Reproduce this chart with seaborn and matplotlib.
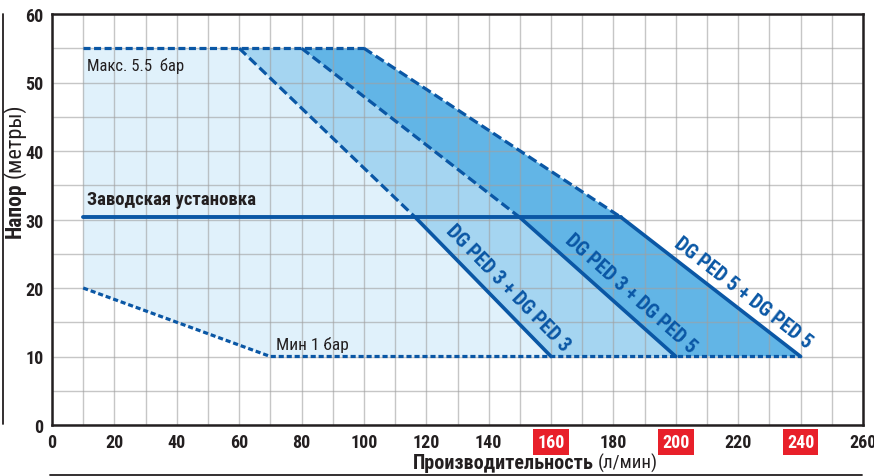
import numpy as np
import pandas as pd
import matplotlib
matplotlib.use("Agg")
import matplotlib.pyplot as plt
from matplotlib import font_manager
from matplotlib.lines import Line2D
import seaborn as sns

# ---------------- data ----------------
x_ticks = [0, 20, 40, 60, 80, 100, 120, 140, 160, 180, 200, 220, 240, 260]
y_ticks = [0, 10, 20, 30, 40, 50, 60]
highlight_ticks = [160, 200, 240]

max_head = 55.0        # Макс. 5.5 бар
factory_head = 30.3    # Заводская установка
min_head = 10.0        # Мин 1 бар
start_flow = 10.0
start_min_head = 20.0

curve_heads = [55.0, 30.3, 10.0]
curve1_flow = [60.0, 116.5, 160.0]   # DG PED 3 + DG PED 3
curve2_flow = [80.0, 150.0, 200.0]   # DG PED 3 + DG PED 5
curve3_flow = [100.0, 182.5, 240.0]  # DG PED 5 + DG PED 5
min_curve_flow = [10.0, 70.0, 240.0]
min_curve_head = [20.0, 10.0, 10.0]

curve_labels = ["DG PED 3 + DG PED 3", "DG PED 3 + DG PED 5", "DG PED 5 + DG PED 5"]

# ---------------- style ----------------
sns.set_theme(style="white")
names = {f.name for f in font_manager.fontManager.ttflist}
main_font = "DejaVu Sans"
for cand in ["Liberation Sans Narrow", "Roboto Condensed", "Open Sans Condensed", "Roboto"]:
    if cand in names:
        main_font = cand
        break
plt.rcParams["font.family"] = [main_font, "DejaVu Sans"]

LINE = "#0a57a5"
LIGHT = "#e0f1fb"
MED = "#a5d5f1"
DARK = "#62b5e6"
TXT = "#231f20"
RED = "#e8202a"

fig = plt.figure(figsize=(8.74, 4.77), dpi=100)
ax = fig.add_axes([52 / 874, 51 / 477, 811 / 874, 411 / 477])

# ---------------- fills ----------------
light_x = [start_flow, curve1_flow[0], curve1_flow[1], curve1_flow[2], min_curve_flow[1], start_flow]
light_y = [max_head, curve_heads[0], curve_heads[1], curve_heads[2], min_head, start_min_head]
med_x = [curve1_flow[0], curve2_flow[0], curve2_flow[1], curve2_flow[2], curve1_flow[2], curve1_flow[1]]
med_y = [curve_heads[0], curve_heads[0], curve_heads[1], curve_heads[2], curve_heads[2], curve_heads[1]]
dark_x = [curve2_flow[0], curve3_flow[0], curve3_flow[1], curve3_flow[2], curve2_flow[2], curve2_flow[1]]
dark_y = med_y
ax.fill(light_x, light_y, color=LIGHT, lw=0, zorder=1)
ax.fill(med_x, med_y, color=MED, lw=0, zorder=1)
ax.fill(dark_x, dark_y, color=DARK, lw=0, zorder=1)

# ---------------- lines ----------------
def seg(xs, ys, **kw):
    df = pd.DataFrame({"x": xs, "y": ys})
    sns.lineplot(data=df, x="x", y="y", sort=False, estimator=None, ax=ax,
                 color=LINE, zorder=4, legend=False, **kw)

seg([start_flow, curve3_flow[0]], [max_head, max_head], lw=2.3, dashes=(2.2, 1.1))
for cf in (curve1_flow, curve2_flow, curve3_flow):
    seg(cf[:2], curve_heads[:2], lw=2.3, dashes=(3.0, 1.4))
    seg(cf[1:], curve_heads[1:], lw=2.6)
seg([start_flow, curve3_flow[1]], [factory_head, factory_head], lw=2.8)
seg(min_curve_flow, min_curve_head, lw=2.3, dashes=(1.6, 0.9))
ax.set_xlabel("")
ax.set_ylabel("")
ax.set_xlim(0, 260)
ax.set_ylim(0, 60)

# ---------------- grid ----------------
ax.set_xticks(np.arange(0, 261, 10), minor=True)
ax.set_yticks(np.arange(0, 61, 5), minor=True)
ax.set_xticks(x_ticks)
ax.set_yticks(y_ticks)
ax.grid(True, which="both", color="#a0a0a0", alpha=0.6, lw=1.0)
ax.set_axisbelow(False)

# ---------------- texts ----------------
ax.text(11.2, 52.6, "Макс. 5.5  бар", fontsize=12, color=TXT, va="center", ha="left", zorder=5)
ax.text(11.2, 33.0, "Заводская установка", fontsize=13.5, fontweight="bold", color=TXT,
        va="center", ha="left", zorder=5)
ax.text(71.8, 11.8, "Мин 1 бар", fontsize=12.5, color=TXT, va="center", ha="left", zorder=5)

label_pos = [(146.0, 20.0), (185.5, 19.2), (221.5, 19.3)]
for lab, cf, (lx, ly) in zip(curve_labels, (curve1_flow, curve2_flow, curve3_flow), label_pos):
    ang = np.degrees(np.arctan2(curve_heads[2] - curve_heads[1], cf[2] - cf[1]))
    ax.text(lx, ly, lab, rotation=ang, transform_rotates_text=True, rotation_mode="anchor",
            ha="center", va="center", fontsize=14.5, fontweight="bold", color=LINE, zorder=5)

# ---------------- axes styling ----------------
ax.tick_params(axis="both", which="both", length=0)
ax.tick_params(axis="x", pad=6)
ax.tick_params(axis="y", pad=6)
ax.set_xticklabels([str(v) for v in x_ticks], fontsize=13, fontweight="bold", color=TXT)
ax.set_yticklabels([str(v) for v in y_ticks], fontsize=13, fontweight="bold", color=TXT)
for lbl, v in zip(ax.get_xticklabels(), x_ticks):
    if v in highlight_ticks:
        lbl.set_color("white")
        lbl.set_bbox(dict(facecolor=RED, edgecolor="none", pad=3.0))
for s in ax.spines.values():
    s.set_visible(True)
    s.set_color("#231f20")
    s.set_linewidth(1.8)
    s.set_zorder(6)

# axis titles (bold + regular parts)
fig.text(594 / 874, 8 / 477, "Производительность", fontsize=14.5, fontweight="bold",
         color=TXT, ha="right", va="baseline", rotation_mode="anchor")
fig.text(598 / 874, 8 / 477, "(л/мин)", fontsize=13.5, color=TXT, ha="left", va="baseline",
         rotation_mode="anchor")
fig.text(21 / 874, (477 - 182) / 477, "Напор", fontsize=15.5, fontweight="bold", color=TXT,
         rotation=90, ha="right", va="baseline", rotation_mode="anchor")
fig.text(21 / 874, (477 - 178) / 477, "(метры)", fontsize=16, color=TXT,
         rotation=90, ha="left", va="baseline", rotation_mode="anchor")

# decorative frame lines
fig.add_artist(Line2D([3 / 874, 3 / 874], [(477 - 425) / 477, (477 - 15) / 477],
                      color="#231f20", lw=1.3, transform=fig.transFigure))
fig.add_artist(Line2D([50 / 874, 862 / 874], [1.2 / 477, 1.2 / 477],
                      color="#231f20", lw=1.3, transform=fig.transFigure))

fig.savefig("out.png", dpi=100)
